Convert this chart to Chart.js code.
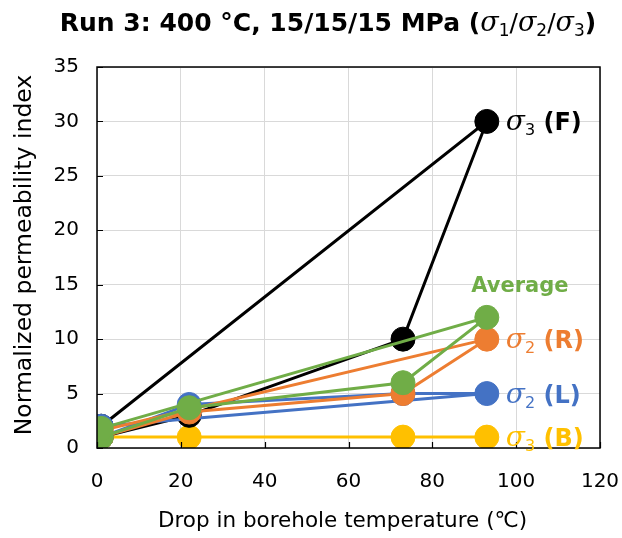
<!DOCTYPE html>
<html>
<head>
<meta charset="utf-8">
<script src="https://cdn.jsdelivr.net/npm/chart.js@4.4.1/dist/chart.umd.min.js"></script>
<style>
  html, body { margin: 0; padding: 0; background: #fff; }
  #wrap { width: 622px; height: 538px; }
</style>
</head>
<body>
<div id="wrap"><canvas id="c" width="622" height="538"></canvas></div>
<script>
// Drop in borehole temperature (°C) at each measurement step; the last step returns to the start
const tempDrop = [1, 22, 73, 93, 1];

// Normalized permeability index for each monitoring direction
const sigma3B = [1, 1, 1, 1, 1];
const sigma3F = [1, 3, 10, 30, 2];
const sigma2L = [1, 4, 5, 5, 2];
const sigma2R = [1, 3.3, 5, 10, 1.6];
const average = [1, 3.7, 6, 12, 1.8];

const xTicks = [0, 20, 40, 60, 80, 100, 120];
const yTicks = [0, 5, 10, 15, 20, 25, 30, 35];

const xTitle = 'Drop in borehole temperature (℃)';
const yTitle = 'Normalized permeability index';

const SANS = '"DejaVu Sans", Verdana, sans-serif';
const SERIF = '"DejaVu Serif", serif';

// listed top layer first (Chart.js paints dataset 0 last)
const seriesDefs = [
  { name: 'Average', ys: average, color: '#70AD47', sym: '', sub: '', tail: 'Average' },
  { name: 'σ2 (R)', ys: sigma2R, color: '#ED7D31', sym: 'σ', sub: '2', tail: ' (R)' },
  { name: 'σ2 (L)', ys: sigma2L, color: '#4472C4', sym: 'σ', sub: '2', tail: ' (L)' },
  { name: 'σ3 (F)', ys: sigma3F, color: '#000000', sym: 'σ', sub: '3', tail: ' (F)' },
  { name: 'σ3 (B)', ys: sigma3B, color: '#FFC000', sym: 'σ', sub: '3', tail: ' (B)' }
];

const datasets = seriesDefs.map(s => ({
  label: s.name,
  data: tempDrop.map((x, i) => ({ x: x, y: s.ys[i] })),
  showLine: true,
  borderColor: s.color,
  backgroundColor: s.color,
  pointBackgroundColor: s.color,
  pointBorderColor: s.color,
  borderWidth: 3,
  pointRadius: 12,
  pointBorderWidth: 1,
  pointHoverRadius: 12
}));

// draw a row of text pieces (font, offset) starting at x
function drawRich(ctx, parts, x, y, color, align) {
  let total = 0;
  parts.forEach(p => { ctx.font = p.font; p.w = ctx.measureText(p.t).width; total += p.w; });
  let cx = align === 'center' ? x - total / 2 : x;
  ctx.fillStyle = color;
  ctx.textBaseline = 'alphabetic';
  ctx.textAlign = 'left';
  parts.forEach(p => {
    ctx.font = p.font;
    ctx.fillText(p.t, cx, y + (p.dy || 0));
    cx += p.w;
  });
}

const decorPlugin = {
  id: 'decor',
  afterDatasetsDraw(chart) {
    const ctx = chart.ctx;
    const a = chart.chartArea;
    const xs = chart.scales.x, ys = chart.scales.y;
    ctx.save();
    // plot frame
    ctx.strokeStyle = '#000';
    ctx.lineWidth = 1.5;
    ctx.strokeRect(a.left, a.top, a.right - a.left, a.bottom - a.top);
    // inner tick marks
    ctx.lineWidth = 1.2;
    ctx.beginPath();
    yTicks.forEach(v => {
      const py = Math.round(ys.getPixelForValue(v)) + 0.5;
      ctx.moveTo(a.left, py); ctx.lineTo(a.left + 6, py);
    });
    xTicks.forEach(v => {
      const px = Math.round(xs.getPixelForValue(v)) + 0.5;
      ctx.moveTo(px, a.bottom); ctx.lineTo(px, a.bottom - 6);
    });
    ctx.stroke();

    // axis titles
    ctx.fillStyle = '#000';
    ctx.textAlign = 'center';
    ctx.textBaseline = 'middle';
    ctx.font = '21.5px ' + SANS;
    ctx.fillText(xTitle, (a.left + a.right) / 2 - 6, 521);
    ctx.save();
    ctx.translate(25, 255);
    ctx.rotate(-Math.PI / 2);
    ctx.font = '23.5px ' + SANS;
    ctx.fillText(yTitle, 0, 0);
    ctx.restore();

    // series labels next to the final heated point
    const last = 3;
    seriesDefs.forEach(s => {
      const px = xs.getPixelForValue(tempDrop[last]);
      const py = ys.getPixelForValue(s.ys[last]);
      if (s.sym) {
        drawRich(ctx, [
          { t: s.sym, font: 'italic 28px ' + SERIF },
          { t: s.sub, font: '16px ' + SANS, dy: 5 },
          { t: s.tail, font: 'bold 24px ' + SANS }
        ], px + 19, py + 9, s.color, 'left');
      } else {
        drawRich(ctx, [{ t: s.tail, font: 'bold 21px ' + SANS }], px + 33, py - 25, s.color, 'center');
      }
    });

    // title
    const tb = 'bold 25px ' + SANS;
    const sg = 'italic 27px ' + SERIF;
    const sb = '17px ' + SANS;
    drawRich(ctx, [
      { t: 'Run 3: 400 °C, 15/15/15 MPa (', font: tb },
      { t: 'σ', font: sg }, { t: '1', font: sb, dy: 5 },
      { t: '/', font: '25px ' + SANS },
      { t: 'σ', font: sg }, { t: '2', font: sb, dy: 5 },
      { t: '/', font: '25px ' + SANS },
      { t: 'σ', font: sg }, { t: '3', font: sb, dy: 5 },
      { t: ')', font: tb }
    ], 328, 31, '#000', 'center');
    ctx.restore();
  }
};

new Chart(document.getElementById('c'), {
  type: 'scatter',
  data: { datasets: datasets },
  plugins: [decorPlugin],
  options: {
    responsive: false,
    animation: false,
    events: [],
    layout: { padding: { top: 67, right: 22, left: 0, bottom: 0 } },
    plugins: { legend: { display: false }, tooltip: { enabled: false }, title: { display: false } },
    scales: {
      x: {
        type: 'linear', min: 0, max: 120,
        afterFit(scale) { scale.height = 90; scale.paddingLeft = 0; scale.paddingRight = 0; },
        afterBuildTicks(scale) { scale.ticks = xTicks.map(v => ({ value: v })); },
        grid: { color: '#d9d9d9', lineWidth: 1, drawTicks: false },
        border: { display: false },
        ticks: { color: '#000', font: { family: SANS, size: 20 }, padding: 22, maxRotation: 0 },
        title: { display: false }
      },
      y: {
        type: 'linear', min: 0, max: 35,
        afterFit(scale) { scale.width = 97; scale.paddingTop = 0; scale.paddingBottom = 0; },
        afterBuildTicks(scale) { scale.ticks = yTicks.map(v => ({ value: v })); },
        grid: { color: '#d9d9d9', lineWidth: 1, drawTicks: false },
        border: { display: false },
        ticks: { color: '#000', font: { family: SANS, size: 20 }, padding: 18 },
        title: { display: false }
      }
    }
  }
});
</script>
</body>
</html>
